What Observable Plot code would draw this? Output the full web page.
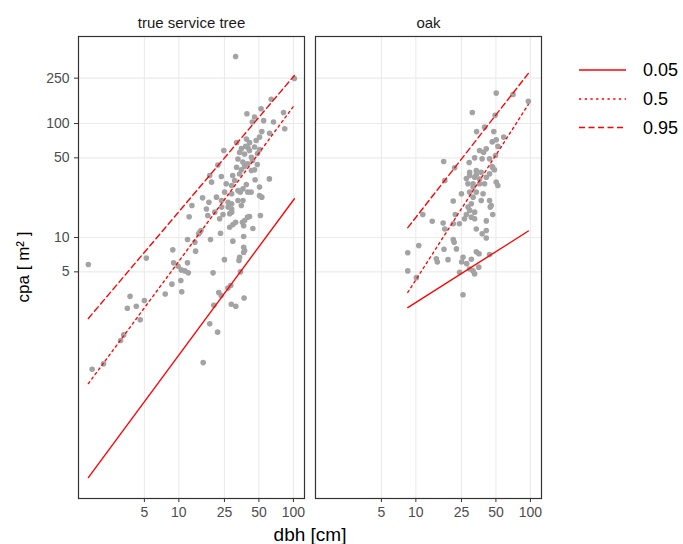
<!DOCTYPE html>
<html><head><meta charset="utf-8">
<script src="https://cdn.jsdelivr.net/npm/d3@7"></script>
<script src="https://cdn.jsdelivr.net/npm/@observablehq/plot@0.6"></script>
<style>body{margin:0;background:#fff;}</style>
</head><body><div id="chart"></div>
<script>
const facets = ["true service tree", "oak"];
const xTicks = [5, 10, 25, 50, 100];
const yTicks = [5, 10, 50, 100, 250];
const quantiles = ["0.05", "0.5", "0.95"];

const serviceDbh = [1.62,1.75,2.2,3.1,3.3,3.55,3.75,4.25,4.6,5.0,5.2,7.6,8.7,10.4,10.6,8.85,9.0,9.85,10.5,11.9,12.1,11.3,11.9,13.8,14.0,16.3,18.6,21.8,20.2,22.3,23.4,26.8,28.4,28.7,31.4,37.1,19.9,25.0,33.5,33.9,36.8,34.5,15.2,15.6,23.1,18.9,29.6,36.8,36.8,37.5,12.3,13.0,16.1,18.3,17.4,17.9,22.7,27.8,28.9,39.8,37.5,35.9,31.3,29.7,27.8,51.5,44.3,53.0,21.9,18.6,23.5,61.7,50.6,46.3,38.8,42.7,23.6,26.9,32.8,36.3,35.1,21.3,20.6,23.6,26.9,24.3,41.4,36.8,14.9,31.3,102,64,39.3,45.8,52.2,55,67,84,82,43.8,53,62,31.9,38.9,41.4,47.3,50.6,35.1,40,45.8,50.6,24.7,37.5,43,32.8,36.2,39.9,48.4,31.9,35.1,33.9,45.8,29.5,30.7,28.9,36.3,32.8,19.3,25.9,25.1,28.9,34.4,40,50.6,28.9,28.9,41.4,44,37.5,43,38.3,48.6,33.9];
const serviceCpa = [5.8,0.70,0.78,1.25,1.4,2.4,3.05,2.5,1.9,2.8,6.6,3.2,3.9,4.2,3.35,7.8,6.0,5.6,5.2,6.0,4.9,5.1,9.6,9.1,7.6,0.80,1.75,1.48,2.55,3.3,3.1,3.6,3.8,2.6,2.5,2.95,4.9,6.4,6.3,6.7,7.4,5.0,11.1,11.5,10.9,9.6,9.3,10.2,8.2,7.7,15.2,19.1,22.3,20.4,17.8,15.6,14.6,16.2,17.8,15.1,14.1,13.6,13.6,13.0,12.3,15.6,12.0,22.6,43.3,35.0,34.3,32.7,27.7,32.1,29.2,25.0,21.1,20.4,21.1,21.1,19.1,22.6,16.7,18.5,18.5,15.9,15.3,12.7,10.8,387,248,163,122,114,135,106,103,90,125,103,85,82,68,73,68,71,76,60.2,61.5,62.2,59,58,54,50.6,48.9,45.9,44.3,43.7,41.4,39.3,36.1,39.3,35.0,31.6,28.6,26.7,25.8,30.6,29.6,25.0,24.2,25.0,25.0,23.3,19.8,16.7,58,47.4,42,38.7,63,54.5,55.7];

const oakDbh = [50.3,70.5,96,31.1,49.2,39.8,33.9,47.9,58.4,46.4,50.3,52,36,41.2,39,17.5,21.8,29.2,32.6,37.9,44,49.6,46.4,33.7,37.2,29.5,32.6,36,41.2,17.9,28.5,31.6,50.3,52,39.8,25,29.5,33.7,38.6,31.6,37.2,44,30.5,28.5,21.2,45.5,46.9,29.5,32.6,27.6,30.5,26.6,32.6,22.1,11.5,13.9,17.3,17.9,21.2,24,33.7,41.2,41.2,37.9,41.2,21.2,21.6,10.6,8.5,17.6,22.6,33.7,35.6,44,25.8,30.5,15.1,15.4,19.1,25.1,27.8,35.4,8.5,10.1,24.1,29.5,31.6,32.6,25.8,46.9,48.6,29.5,33.7,44,27.6,31.6,36,44.6];
const oakCpa = [185,180,157,125,118,93,85,85,76,69,72,63,58,60,56,46.4,41,45.5,50,49,49,52.5,42,38.7,37.3,35,33.8,32.6,33.8,31.6,29.6,29.6,30.6,28.6,29.6,24.2,25,25,24.2,22.6,21.1,21.1,19.8,18.5,20.9,19.1,15.9,17.3,16.7,15.9,15.1,14.6,14.6,15.9,15.9,13.9,13.4,11.9,13.2,13.2,11.9,14.0,11.5,10.8,9.9,9.6,9.1,8.5,7.35,7.9,7.95,7.5,7.2,7.1,6.7,6.45,6.5,6.1,6.4,6.1,5.9,5.5,5.1,4.45,4.95,5.3,5.1,4.8,3.15,41,39.3,37.3,35.6,36.2,32.9,27.7,29.6,18.5];

// fitted quantile lines (end points, log-log straight lines)
const serviceLineDbh = [1.62, 102];
const serviceQ05 = [0.0785, 21.9];
const serviceQ50 = [0.523, 145];
const serviceQ95 = [1.95, 264];
const oakLineDbh = [8.5, 96];
const oakQ05 = [2.43, 11.4];
const oakQ50 = [3.3, 147];
const oakQ95 = [12.2, 275];

const points = [
  ...serviceDbh.map((d, i) => ({species: facets[0], dbh: d, cpa: serviceCpa[i]})),
  ...oakDbh.map((d, i) => ({species: facets[1], dbh: d, cpa: oakCpa[i]}))
];
const lineSets = [
  [facets[0], serviceLineDbh, {"0.05": serviceQ05, "0.5": serviceQ50, "0.95": serviceQ95}],
  [facets[1], oakLineDbh, {"0.05": oakQ05, "0.5": oakQ50, "0.95": oakQ95}]
];
const lines = [];
for (const [sp, xs, qs] of lineSets)
  for (const q of quantiles)
    xs.forEach((x, i) => lines.push({species: sp, q, dbh: x, cpa: qs[q][i]}));

const yLabelRows = yTicks.map(v => ({species: facets[0], v}));

const dashes = {"0.05": null, "0.5": "2.3,3.4", "0.95": "6,3.5"};
const font = "'Liberation Sans', Arial, sans-serif";
const empty = () => "";
const lineWidth = 1.35;

const plot = Plot.plot({
  width: 683, height: 544,
  marginTop: 36, marginBottom: 46, marginLeft: 78, marginRight: 141,
  style: {fontFamily: font, background: "#fff", overflow: "visible"},
  fx: {domain: facets, paddingInner: 0.046, paddingOuter: 0, label: null},
  x: {type: "log", domain: [1.33, 125]},
  y: {type: "log", domain: [0.0514, 580]},
  marks: [
    Plot.gridX(xTicks, {stroke: "#ebebeb", strokeOpacity: 1, strokeWidth: 1.1}),
    Plot.gridY(yTicks, {stroke: "#ebebeb", strokeOpacity: 1, strokeWidth: 1.1}),
    Plot.dot(points, {fx: "species", x: "dbh", y: "cpa", r: 2.8, fill: "#a3a3a3", stroke: null}),
    ...quantiles.map(q => Plot.line(lines.filter(d => d.q === q), {
      fx: "species", x: "dbh", y: "cpa", z: "species",
      stroke: "#ff0000", strokeWidth: lineWidth, strokeDasharray: dashes[q]
    })),
    Plot.frame({stroke: "#333333", strokeWidth: 1.2}),
    Plot.axisX(xTicks, {tickSize: 4, stroke: "#333333", tickFormat: empty, label: null}),
    Plot.axisY(yTicks, {tickSize: 4, stroke: "#333333", tickFormat: empty, label: null}),
    Plot.text(xTicks, {x: d => d, frameAnchor: "bottom", lineAnchor: "top", dy: 9,
      text: d => String(d), fontSize: 14, fill: "#4d4d4d"}),
    Plot.text(yLabelRows, {fx: "species", y: "v", frameAnchor: "left", textAnchor: "end", dx: -9,
      text: d => String(d.v), fontSize: 14, fill: "#4d4d4d"}),
    Plot.axisFx({anchor: "top", tickSize: 0, tickPadding: 9, fontSize: 15, fill: "#1a1a1a", label: null})
  ]
});

const svg = d3.select(plot);
svg.append("text")
  .attr("x", 310).attr("y", 541)
  .attr("text-anchor", "middle")
  .attr("font-family", font).attr("font-size", 19).attr("fill", "#000")
  .text("dbh [cm]");
svg.append("text")
  .attr("transform", "translate(29,267) rotate(-90)")
  .attr("text-anchor", "middle")
  .attr("font-family", font).attr("font-size", 17).attr("fill", "#000")
  .text("cpa [ m² ]");

const legendY = [70, 99, 127.5];
const lg = svg.append("g");
quantiles.forEach((q, i) => {
  const ln = lg.append("line")
    .attr("x1", 579).attr("x2", 626).attr("y1", legendY[i]).attr("y2", legendY[i])
    .style("stroke", "#ff0000").style("stroke-width", "1.5px");
  if (dashes[q]) ln.style("stroke-dasharray", dashes[q]);
  lg.append("text")
    .attr("x", 643).attr("y", legendY[i]).attr("dy", "0.36em")
    .attr("text-anchor", "start")
    .attr("font-family", font).attr("font-size", 18).attr("fill", "#000")
    .text(q);
});

document.getElementById("chart").appendChild(plot);
</script></body></html>
